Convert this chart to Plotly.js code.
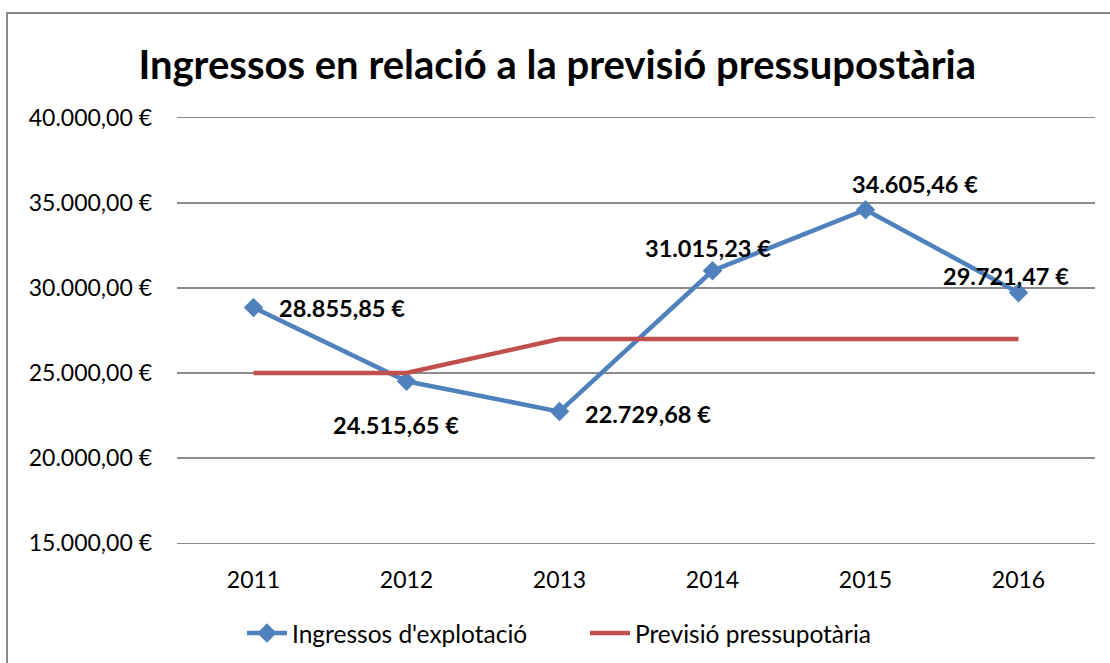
<!DOCTYPE html>
<html><head><meta charset="utf-8">
<script src="https://cdn.plot.ly/plotly-3.0.1.min.js"></script>
<style>
html,body{margin:0;padding:0;background:#fff;overflow:hidden}
#chart{width:1110px;height:663px}
#frame{position:absolute;left:6px;top:12px;width:1200px;height:800px;border:2px solid #888;pointer-events:none;box-sizing:border-box}
</style></head>
<body>
<div id="chart"></div>
<div id="frame"></div>
<script>
const years = ['2011','2012','2013','2014','2015','2016'];
const ingressos = [28855.85, 24515.65, 22729.68, 31015.23, 34605.46, 29721.47];
const ingressosLabels = ['28.855,85 €','24.515,65 €','22.729,68 €','31.015,23 €','34.605,46 €','29.721,47 €'];
const previsio = [25000, 25000, 27000, 27000, 27000, 27000];
const yTickVals = [15000, 20000, 25000, 30000, 35000, 40000];
const yTickText = ['15.000,00 €','20.000,00 €','25.000,00 €','30.000,00 €','35.000,00 €','40.000,00 €'];
// label offsets in pixels (style only)
const labelDx = [88, -11, 88, -5, 49, -13];
const labelDy = [-1, -44, -2, 23, 26, 17];

const font = 'Lato, "Open Sans", sans-serif';
const traces = [
  {x: years, y: ingressos, name: "Ingressos d'explotació", type: 'scatter', mode: 'lines+markers',
   line: {color: '#4F81BD', width: 4.5}, marker: {symbol: 'diamond', size: 15, color: '#4F81BD'}},
  {x: years, y: previsio, name: 'Previsió pressupotària', type: 'scatter', mode: 'lines',
   line: {color: '#C0504D', width: 4.5}}
];
const annotations = years.map((yr, i) => ({
  x: i, y: ingressos[i], xref: 'x', yref: 'y', text: ingressosLabels[i], showarrow: false,
  xanchor: 'center', yanchor: 'middle', xshift: labelDx[i], yshift: labelDy[i],
  font: {family: font, size: 23.5, color: '#000', weight: 'bold'}
}));
const layout = {
  width: 1110, height: 663,
  margin: {l: 177, r: 15, t: 118, b: 120},
  paper_bgcolor: '#fff', plot_bgcolor: '#fff',
  title: {text: 'Ingressos en relació a la previsió pressupostària', x: 0.502, xanchor: 'center', y: 0.902, yanchor: 'middle',
          font: {family: font, size: 40, color: '#000', weight: 'bold'}},
  xaxis: {type: 'category', range: [-0.5, 5.5], showgrid: false, zeroline: false,
          showline: true, mirror: true, linecolor: '#8c8c8c', linewidth: 1.3,
          ticks: '', tickfont: {family: font, size: 23, color: '#000'}, ticklabelstandoff: 16},
  yaxis: {range: [15000, 40000], tickvals: yTickVals, ticktext: yTickText, showgrid: true,
          gridcolor: '#8c8c8c', gridwidth: 1.3, zeroline: false, showline: false, ticks: '',
          tickfont: {family: font, size: 23, color: '#000'}, ticklabelstandoff: 24},
  annotations: annotations,
  showlegend: true,
  legend: {orientation: 'h', xref: 'container', yref: 'container', x: 0.527, xanchor: 'center', y: 0.045, yanchor: 'middle',
           font: {family: font, size: 24.5, color: '#000'}, itemwidth: 40, entrywidth: 288},
  hovermode: false
};
Plotly.newPlot('chart', traces, layout, {displayModeBar: false, staticPlot: true});
</script>
</body></html>
